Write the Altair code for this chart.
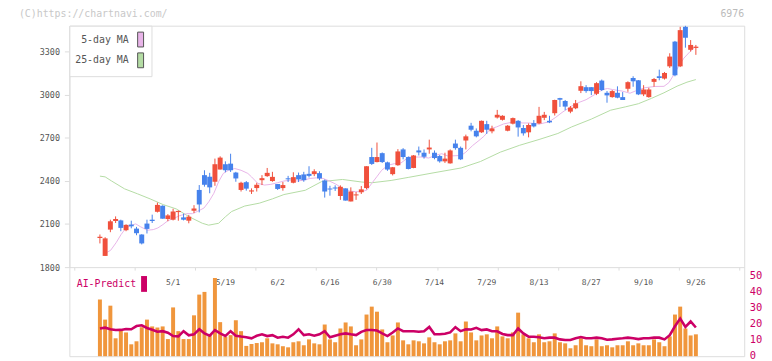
import altair as alt
import numpy as np
import pandas as pd

# ---------------- data ----------------
opens = [2003, 1878, 2061, 2121, 2125, 2057, 2096, 2068, 2027, 2103,
         2130, 2185, 2227, 2135, 2130, 2183, 2146, 2123, 2192, 2337,
         2440, 2429, 2394, 2479, 2516, 2520, 2458, 2337, 2391, 2326,
         2350, 2405, 2433, 2399, 2378, 2350, 2418, 2387, 2440, 2445,
         2449, 2447, 2454, 2403, 2347, 2354, 2295, 2348, 2257, 2299,
         2321, 2350, 2566, 2531, 2593, 2529, 2447, 2509, 2619, 2566,
         2490, 2612, 2596, 2619, 2596, 2573, 2536, 2522, 2660, 2630,
         2681, 2784, 2749, 2738, 2795, 2745, 2841, 2825, 2749, 2798,
         2818, 2768, 2738, 2802, 2800, 2839, 2818, 2871, 2976, 2956,
         2882, 2906, 3027, 3052, 3052, 3006, 3098, 3013, 2983, 3013,
         2983, 3041, 3116, 3100, 3002, 2983, 3089, 3128, 3112, 3197,
         3369, 3197, 3472, 3312, 3325]
highs = [2027, 2008, 2130, 2153, 2130, 2098, 2123, 2080, 2029, 2130,
         2165, 2249, 2230, 2169, 2206, 2194, 2172, 2163, 2231, 2371,
         2474, 2456, 2555, 2571, 2536, 2589, 2463, 2394, 2399, 2348,
         2387, 2440, 2490, 2463, 2378, 2392, 2435, 2460, 2458, 2463,
         2502, 2481, 2467, 2410, 2366, 2369, 2369, 2348, 2355, 2323,
         2364, 2502, 2630, 2667, 2598, 2534, 2497, 2621, 2628, 2570,
         2580, 2639, 2619, 2687, 2612, 2580, 2596, 2619, 2687, 2639,
         2722, 2804, 2765, 2820, 2818, 2784, 2894, 2857, 2789, 2841,
         2823, 2789, 2800, 2823, 2915, 2880, 2853, 2965, 2978, 2963,
         2921, 2963, 3093, 3066, 3052, 3087, 3105, 3025, 3032, 3058,
         3018, 3093, 3128, 3102, 3066, 3048, 3116, 3174, 3158, 3288,
         3374, 3472, 3479, 3380, 3346]
lows = [1965, 1878, 2043, 2107, 2050, 2050, 2070, 2022, 1958, 2034,
        2107, 2180, 2137, 2119, 2125, 2123, 2125, 2105, 2176, 2181,
        2360, 2314, 2366, 2479, 2460, 2462, 2394, 2326, 2332, 2309,
        2326, 2371, 2428, 2394, 2337, 2332, 2392, 2383, 2392, 2394,
        2424, 2433, 2405, 2284, 2297, 2330, 2268, 2263, 2257, 2268,
        2309, 2341, 2511, 2529, 2525, 2470, 2438, 2505, 2550, 2480,
        2488, 2577, 2555, 2589, 2550, 2527, 2525, 2520, 2617, 2545,
        2619, 2745, 2703, 2734, 2727, 2731, 2834, 2820, 2745, 2793,
        2708, 2715, 2703, 2772, 2795, 2823, 2802, 2855, 2915, 2892,
        2871, 2899, 3011, 3013, 2997, 2997, 3025, 2944, 2979, 2975,
        2963, 3020, 3055, 2997, 2990, 2979, 3055, 3100, 3105, 3186,
        3128, 3192, 3327, 3300, 3277]
closes = [2012, 2000, 2119, 2135, 2073, 2094, 2084, 2036, 1965, 2066,
          2121, 2233, 2137, 2160, 2187, 2191, 2130, 2151, 2208, 2236,
          2373, 2355, 2516, 2562, 2474, 2474, 2417, 2387, 2346, 2334,
          2373, 2419, 2456, 2428, 2344, 2371, 2411, 2426, 2410, 2405,
          2435, 2467, 2417, 2326, 2340, 2347, 2359, 2263, 2326, 2306,
          2341, 2502, 2518, 2566, 2531, 2479, 2495, 2605, 2566, 2483,
          2577, 2598, 2568, 2632, 2559, 2536, 2555, 2612, 2628, 2550,
          2710, 2756, 2710, 2818, 2756, 2765, 2860, 2853, 2784, 2837,
          2772, 2731, 2789, 2779, 2853, 2860, 2807, 2963, 2965, 2917,
          2910, 2940, 3059, 3025, 3025, 3080, 3032, 2995, 3025, 2979,
          2963, 3087, 3093, 3002, 3036, 3036, 3109, 3116, 3151, 3265,
          3135, 3449, 3396, 3346, 3334]

volume = [35.8, 23.1, 31.9, 11.3, 16.5, 15.0, 7.5, 9.4, 18.3, 23.1,
          18.8, 18.1, 18.8, 10.8, 30.8, 15.8, 10.8, 10.8, 25.8, 38.9,
          40.6, 13.8, 49.4, 21.5, 12.3, 13.3, 22.7, 15.8, 6.5, 7.7,
          8.3, 8.8, 11.3, 8.1, 7.5, 6.3, 5.6, 8.8, 9.4, 6.9,
          10.6, 8.1, 7.5, 20.0, 10.6, 8.8, 17.5, 21.3, 18.8, 6.9,
          10.6, 26.3, 31.3, 28.1, 16.9, 8.8, 13.1, 21.3, 10.0, 7.5,
          10.0, 9.4, 8.1, 11.9, 8.8, 7.5, 9.4, 10.0, 14.4, 9.4,
          21.9, 15.0, 10.0, 13.1, 13.8, 11.3, 18.8, 12.5, 11.3, 15.0,
          27.5, 13.8, 11.3, 8.8, 13.8, 8.8, 9.4, 14.4, 8.8, 8.1,
          5.0, 6.9, 11.3, 6.9, 6.3, 10.6, 6.3, 6.9, 5.6, 6.9,
          6.9, 9.4, 6.9, 8.1, 6.9, 6.9, 10.6, 8.8, 6.3, 12.5,
          26.3, 31.3, 17.5, 13.1, 13.8]

ai_predict = [17.5, 18.0, 17.0, 16.5, 16.6, 17.2, 17.0, 19.0, 19.5, 17.8,
              16.7, 15.4, 15.8, 14.8, 12.7, 12.5, 15.8, 13.2, 13.8, 17.0,
              14.4, 13.0, 16.5, 14.4, 12.8, 15.8, 12.9, 12.4, 12.0, 11.3,
              12.9, 13.8, 12.7, 13.3, 11.7, 12.3, 11.7, 13.8, 17.0, 13.3,
              13.8, 12.9, 13.8, 15.8, 11.9, 12.9, 13.8, 14.4, 13.8, 13.3,
              15.4, 16.5, 16.5, 16.2, 14.4, 12.7, 15.0, 17.5, 15.8, 15.8,
              15.8, 15.4, 15.8, 18.5, 13.8, 13.8, 14.2, 15.0, 18.3, 15.8,
              17.0, 16.9, 17.9, 16.5, 16.9, 15.8, 15.7, 14.0, 13.3, 13.3,
              17.5, 14.4, 12.3, 12.3, 11.9, 11.3, 11.7, 11.7, 10.6, 10.2,
              10.2, 11.3, 12.1, 11.3, 11.3, 11.7, 11.3, 10.4, 10.6, 11.0,
              11.3, 11.7, 11.3, 10.8, 11.3, 11.3, 11.7, 11.7, 10.6, 13.3,
              18.9, 23.8, 18.5, 21.9, 18.1]

# moving averages (position = trading-day index)
ma5_pos = [1.25, 2.05, 3.1, 4.05, 5.0, 5.9, 6.85, 7.8, 9.1, 10.2,
           11.1, 12.05, 13.0, 14.3, 15.25, 16.6, 17.7, 18.6, 19.9, 20.85,
           21.8, 22.7, 23.6, 24.6, 25.8, 27.0, 28.3, 29.0, 30.2, 31.5,
           32.7, 33.95, 35.2, 36.45, 37.7, 38.9, 40.2, 41.4, 42.7, 43.9,
           45.1, 46.4, 47.65, 48.9, 50.1, 51.1, 52.0, 52.95, 53.9, 55.1,
           56.35, 57.6, 59.1, 61.6, 62.9, 64.1, 65.4, 66.6, 69.1, 70.0,
           71.3, 72.5, 73.45, 74.7, 75.9, 77.2, 79.05, 80.9, 82.2, 84.0,
           85.9, 87.1, 88.4, 90.25, 91.5, 93.0, 94.9, 96.2, 97.1, 98.0,
           99.9, 101.4, 102.4, 104.2, 106.1, 107.9, 108.85, 109.8, 110.7, 111.7,
           112.9, 113.9]
ma5_val = [1901, 1917, 1970, 2027, 2073, 2089, 2101, 2080, 2057, 2061,
           2073, 2096, 2123, 2142, 2158, 2172, 2172, 2187, 2211, 2256,
           2314, 2394, 2452, 2474, 2486, 2474, 2452, 2428, 2383, 2371,
           2376, 2387, 2399, 2405, 2399, 2405, 2417, 2421, 2417, 2399,
           2378, 2348, 2330, 2325, 2325, 2337, 2383, 2428, 2474, 2509,
           2520, 2525, 2566, 2566, 2559, 2577, 2589, 2573, 2577, 2600,
           2646, 2681, 2710, 2762, 2776, 2796, 2810, 2803, 2803, 2795,
           2811, 2840, 2876, 2921, 2944, 2965, 3006, 3036, 3043, 3036,
           3025, 3010, 3025, 3048, 3057, 3058, 3084, 3140, 3197, 3254,
           3300, 3334]
ma25_pos = [0.0, 1.0, 2.2, 4.7, 7.2, 9.6, 12.1, 14.6, 17.1, 19.6,
            20.8, 22.7, 24.0, 25.2, 27.7, 30.5, 33.0, 35.2, 39.3, 42.4,
            46.4, 50.1, 52.0, 55.7, 59.1, 64.1, 69.1, 72.8, 76.6, 80.3,
            84.0, 87.6, 90.2, 94.0, 97.7, 100.5, 103.0, 105.5, 107.9, 110.4,
            112.3, 114.0]
ma25_val = [2433, 2428, 2400, 2345, 2310, 2275, 2235, 2205, 2150, 2105,
            2092, 2105, 2150, 2187, 2225, 2245, 2275, 2305, 2335, 2395,
            2410, 2392, 2387, 2403, 2425, 2458, 2490, 2535, 2600, 2648,
            2688, 2730, 2775, 2830, 2892, 2915, 2937, 2974, 3013, 3059,
            3087, 3105]

date_labels = ["5/1", "5/19", "6/2", "6/16", "6/30", "7/14", "7/29",
               "8/13", "8/27", "9/10", "9/26"]
date_label_index = [14, 24, 34, 44, 54, 64, 74, 84, 94, 104, 114]
price_ticks = [1800, 2100, 2400, 2700, 3000, 3300]
ai_ticks = [0, 10, 20, 30, 40, 50]
series_names = ["5-day MA", "25-day MA"]
ai_name = "AI-Predict"
copyright_text = "(C)https://chartnavi.com/"
code_text = "6976"

# ---------------- style ----------------
MONO = "DejaVu Sans Mono"
RED = "#f0503c"
BLUE = "#4682ec"
PINK = "#e8b4e8"
GREEN = "#b4dca4"
ORANGE = "#f0963c"
MAGENTA = "#cc0066"
AXIS_GREY = "#dddddd"
TEXT_GREY = "#555555"

W, H, TOP_H = 682, 334, 244
X_MIN, X_MAX = -4.9, 122.3
P_MIN, P_MAX = 1800, 3480

n = len(opens)
candles = pd.DataFrame({"i": np.arange(n), "open": opens, "high": highs,
                        "low": lows, "close": closes})

x_scale = alt.Scale(domain=[X_MIN, X_MAX], nice=False, zero=False)
x_axis = alt.Axis(values=[float(v) for v in np.linspace(X_MIN, X_MAX, 12)],
                  labels=False, title=None, grid=False, domainColor=AXIS_GREY,
                  tickColor=AXIS_GREY, tickSize=3, offset=-(H - TOP_H))


def X(field):
    return alt.X(f"{field}:Q", scale=x_scale, axis=x_axis)


p_scale = alt.Scale(domain=[P_MIN, P_MAX], range=[TOP_H, 0], nice=False, zero=False)
p_axis = alt.Axis(orient="left", values=price_ticks, format="d", title=None, grid=False,
                  domainColor=AXIS_GREY, tickColor=AXIS_GREY, tickSize=5,
                  labelPadding=5, labelFont=MONO, labelFontSize=8.5,
                  labelColor=TEXT_GREY)


def P(field):
    return alt.Y(f"{field}:Q", scale=p_scale, axis=p_axis)


a_scale = alt.Scale(domain=[0, 50], range=[H, TOP_H + 10], nice=False, zero=False)
a_axis = alt.Axis(orient="right", values=ai_ticks, format="d", title=None, grid=False,
                  domain=False, ticks=False, labelPadding=5, labelFont=MONO,
                  labelFontSize=10.5, labelOffset=-1, labelColor=MAGENTA)

# ---------------- top panel ----------------
ma5_df = pd.DataFrame({"pos": ma5_pos, "value": ma5_val, "series": series_names[0]})
ma25_df = pd.DataFrame({"pos": ma25_pos, "value": ma25_val, "series": series_names[1]})

ma_legend = alt.Legend(
    title=None, orient="top-left", offset=0, padding=6, fillColor="white",
    strokeColor=AXIS_GREY, cornerRadius=0,
    symbolType="M-0.4,-1L0.4,-1L0.4,1L-0.4,1Z", symbolSize=225,
    symbolStrokeColor="#555555", symbolStrokeWidth=1, symbolOpacity=1,
    symbolOffset=58, labelAlign="right", labelOffset={"expr": "-20"}, labelFont=MONO,
    labelFontSize=10, labelColor=TEXT_GREY, rowPadding=1)

legend_proxy = alt.Chart(pd.concat([ma5_df, ma25_df])).mark_square(size=0).encode(
    x=X("pos"), y=P("value"),
    color=alt.Color("series:N", scale=alt.Scale(domain=series_names, range=[PINK, GREEN]),
                    legend=ma_legend))

ma25_line = alt.Chart(ma25_df).mark_line(color=GREEN, strokeWidth=1).encode(x=X("pos"), y=P("value"))
ma5_line = alt.Chart(ma5_df).mark_line(color=PINK, strokeWidth=1).encode(x=X("pos"), y=P("value"))

up = "datum.close >= datum.open"
down = "datum.close < datum.open"
base = alt.Chart(candles)
wick_up = base.transform_filter(up).mark_rule(color=RED, strokeWidth=1).encode(
    x=X("i"), y=P("low"), y2="high")
body_up = base.transform_filter(up).mark_bar(color=RED, size=5).encode(
    x=X("i"), y=P("open"), y2="close")
wick_dn = base.transform_filter(down).mark_rule(color=BLUE, strokeWidth=1).encode(
    x=X("i"), y=P("low"), y2="high")
body_dn = base.transform_filter(down).mark_bar(color=BLUE, size=5).encode(
    x=X("i"), y=P("open"), y2="close")

labels_df = pd.DataFrame({"i": date_label_index, "label": date_labels, "base": P_MIN})
date_text = alt.Chart(labels_df).mark_text(
    font=MONO, fontSize=8, color=TEXT_GREY, dy=16, baseline="middle", align="center"
).encode(x=X("i"), y=P("base"), text="label:N")

corner_df = pd.DataFrame({"i": [X_MIN, X_MAX], "price": [P_MAX, P_MAX],
                          "label": [copyright_text, code_text]})
copyright_mark = alt.Chart(corner_df.iloc[[0]]).mark_text(
    align="left", baseline="middle", dx=-56, dy=-12, font=MONO, fontSize=10, color="#c8c8c8"
).encode(x=X("i"), y=P("price"), text="label:N")
code_mark = alt.Chart(corner_df.iloc[[1]]).mark_text(
    align="right", baseline="middle", dx=5, dy=-12, font=MONO, fontSize=10, color="#bbbbbb"
).encode(x=X("i"), y=P("price"), text="label:N")

top = alt.layer(legend_proxy, ma25_line, ma5_line, wick_up, body_up, wick_dn, body_dn,
                date_text, copyright_mark, code_mark)

# ---------------- bottom panel ----------------
vol_df = pd.DataFrame({"i": np.arange(n), "volume": volume})
ai_df = pd.DataFrame({"i": np.arange(n), "ai": ai_predict, "series": ai_name})

ai_legend = alt.Legend(
    title=None, orient="none", legendX=6, legendY=253, padding=0,
    symbolType="M-0.375,-1L0.375,-1L0.375,1L-0.375,1Z", symbolSize=256,
    symbolFillColor=MAGENTA, symbolStrokeWidth=0, symbolOpacity=1,
    symbolOffset=61.5, labelAlign="right", labelOffset={"expr": "-16"}, labelFont=MONO,
    labelFontSize=10, labelColor=MAGENTA)

vol_bars = alt.Chart(vol_df).mark_bar(color=ORANGE, size=4).encode(
    x=X("i"), y=alt.Y("volume:Q", scale=a_scale, axis=a_axis))
ai_line = alt.Chart(ai_df).mark_line(strokeWidth=2.6).encode(
    x=X("i"), y=alt.Y("ai:Q", scale=a_scale, axis=a_axis),
    stroke=alt.Stroke("series:N", scale=alt.Scale(domain=[ai_name], range=[MAGENTA]),
                      legend=ai_legend))

bottom = alt.layer(vol_bars, ai_line)

chart = alt.layer(top, bottom).resolve_scale(y="independent").properties(
    width=W, height=H,
    autosize=alt.AutoSizeParams(type="none"),
    padding={"left": 62, "top": 16, "right": 20, "bottom": 3},
).configure_view(stroke=None).configure(background="white")

chart.save("out.html", embed_options={"renderer": "svg", "actions": False})
